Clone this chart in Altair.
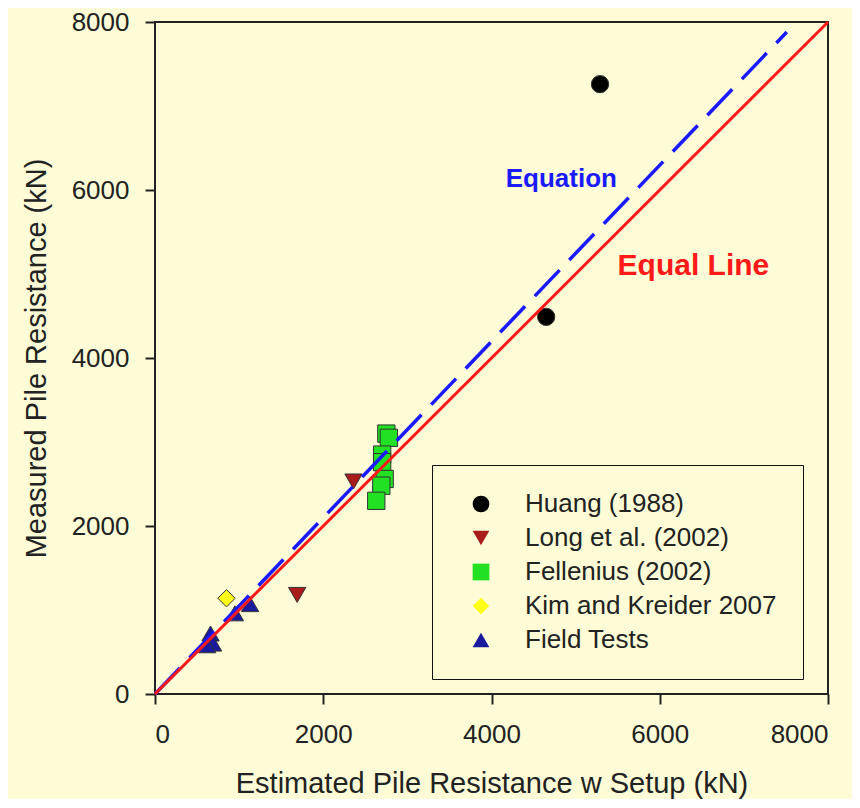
import altair as alt
import pandas as pd

# ---- data ----
huang_x = [5290, 4650]
huang_y = [7260, 4490]
long_x = [2360, 1690]
long_y = [2530, 1180]
fell_x = [2750, 2780, 2700, 2700, 2730, 2690, 2630]
fell_y = [3100, 3050, 2850, 2760, 2560, 2480, 2300]
kim_x = [850]
kim_y = [1140]
field_x = [1130, 950, 660, 690, 620]
field_y = [1070, 960, 720, 600, 580]

series_names = ["Huang (1988)", "Long et al. (2002)", "Fellenius (2002)",
                "Kim and Kreider 2007", "Field Tests"]
series_fill = ["#000000", "#A81C1C", "#22E022", "#FFFF1A", "#1A1A9E"]
series_shape = ["circle", "triangle-down", "square", "diamond", "triangle-up"]

equal_x = [0, 8000]
equal_y = [0, 8000]
equation_x = [0, 7510]
equation_y = [0, 7880]

label_text = ["Equation", "Equal Line"]
label_x = [4830, 6400]
label_y = [6130, 5090]
label_color = ["#1A1AFF", "#FF1A1A"]
label_size = [26, 30]

tick_values = [0, 2000, 4000, 6000, 8000]

BG = "#FDFCD6"
FONT = "Liberation Sans"

rows = []
for name, xs, ys in zip(series_names,
                        [huang_x, long_x, fell_x, kim_x, field_x],
                        [huang_y, long_y, fell_y, kim_y, field_y]):
    for a, b in zip(xs, ys):
        rows.append({"series": name, "x": a, "y": b})
pts = pd.DataFrame(rows)

xscale = alt.Scale(domain=[0, 8000], nice=False)
yscale = alt.Scale(domain=[0, 8000], nice=False)

xaxis = alt.Axis(values=tick_values, format="d",
                 title="Estimated Pile Resistance w Setup (kN)",
                 labelPadding=17, titlePadding=22)
yaxis = alt.Axis(values=tick_values, format="d",
                 title="Measured Pile Resistance (kN)",
                 labelPadding=16, titlePadding=20)

points = alt.Chart(pts).mark_point(
    filled=True, size=300, stroke="#333333", strokeWidth=1, opacity=1
).encode(
    x=alt.X("x:Q", scale=xscale, axis=xaxis),
    y=alt.Y("y:Q", scale=yscale, axis=yaxis),
    fill=alt.Fill("series:N",
                  scale=alt.Scale(domain=series_names, range=series_fill),
                  legend=alt.Legend(title=None, symbolStrokeColor="#333333",
                                    symbolStrokeWidth=1)),
    shape=alt.Shape("series:N",
                    scale=alt.Scale(domain=series_names, range=series_shape),
                    legend=alt.Legend(title=None, symbolStrokeColor="#333333",
                                      symbolStrokeWidth=1)),
)

equal_df = pd.DataFrame({"x": equal_x, "y": equal_y})
equation_df = pd.DataFrame({"x": equation_x, "y": equation_y})

equal_line = alt.Chart(equal_df).mark_line(
    color="#FF1A1A", strokeWidth=3
).encode(x=alt.X("x:Q", scale=xscale), y=alt.Y("y:Q", scale=yscale))

equation_line = alt.Chart(equation_df).mark_line(
    color="#1A1AFF", strokeWidth=3.5, strokeDash=[36, 14]
).encode(x=alt.X("x:Q", scale=xscale), y=alt.Y("y:Q", scale=yscale))

lab_df = pd.DataFrame({"t": label_text, "x": label_x, "y": label_y,
                       "c": label_color, "s": label_size})
labels = alt.Chart(lab_df).mark_text(
    font=FONT, fontWeight="bold", align="center", baseline="middle"
).encode(
    x=alt.X("x:Q", scale=xscale), y=alt.Y("y:Q", scale=yscale),
    text="t:N",
    color=alt.Color("c:N", scale=None, legend=None),
    size=alt.Size("s:Q", scale=None, legend=None),
)

chart = alt.layer(points, equation_line, equal_line, labels).properties(
    width=673, height=672,
    autosize=alt.AutoSizeParams(type="none"),
    padding={"left": 147, "top": 14, "right": 24, "bottom": 105},
    background=BG,
).configure_view(
    stroke="#222222", strokeWidth=2, fill=BG
).configure_axis(
    domain=False, grid=False,
    tickColor="#222222", tickWidth=2, tickSize=10,
    labelFont=FONT, labelFontSize=26, labelColor="#222222",
    titleFont=FONT, titleFontSize=29, titleFontWeight="normal",
    titleColor="#222222",
).configure_legend(
    orient="none", legendX=277, legendY=443,
    strokeColor="#111111", fillColor=BG, padding=26,
    labelFont=FONT, labelFontSize=26, labelColor="#222222", labelLimit=500,
    symbolSize=280, symbolStrokeColor="#333333", symbolStrokeWidth=1,
    symbolOffset=10, labelOffset=31, rowPadding=8,
    cornerRadius=0,
)

chart.save("out.html", embed_options={"renderer": "svg", "actions": False})
